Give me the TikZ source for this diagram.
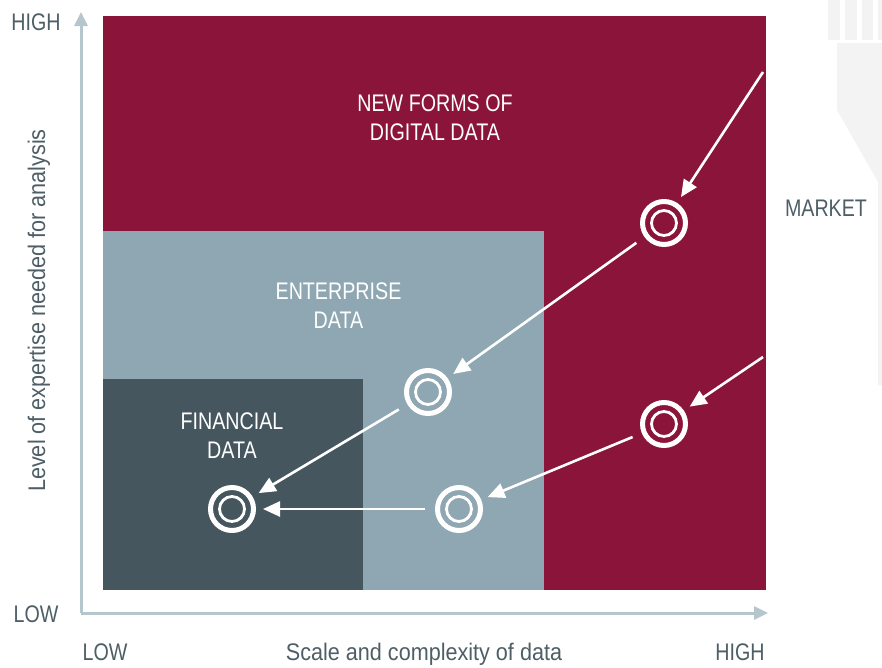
\documentclass[tikz,border=0pt]{standalone}
\usepackage{fontspec}
\setmainfont[FakeStretch=0.82]{Liberation Sans}
\newfontfamily\axisfont[FakeStretch=0.9]{Liberation Sans}
\usetikzlibrary{arrows.meta}

\definecolor{maroon}{HTML}{8B143B}
\definecolor{entblue}{HTML}{8FA7B2}
\definecolor{findark}{HTML}{46565E}
\definecolor{axisgray}{HTML}{B5C7CC}
\definecolor{textgray}{HTML}{4E5E66}
\definecolor{ghost}{HTML}{F3F3F3}

\begin{document}
\begin{tikzpicture}[x=1pt,y=-1pt,
target/.style={circle,draw=white,line width=5pt,minimum size=43pt,inner sep=0pt},
flow/.style={draw=white,line width=2.6pt,-{Triangle[length=17pt,width=15pt]},shorten >=7pt,shorten <=10pt},
axis/.style={draw=axisgray,line width=3pt,-{Triangle[length=14pt,width=13pt]}},
boxlabel/.style={text=white,align=center,font=\fontsize{24}{29}\selectfont},
ticklabel/.style={text=textgray,anchor=base,font=\fontsize{24}{29}\selectfont}]
\useasboundingbox (0,0) rectangle (882,667);

% faint shape at the right edge
\foreach \xa/\xb in {828/840,845/857,862/873,878/882}
  \fill[ghost] (\xa,0) rectangle (\xb,40);
\fill[ghost] (837,43) -- (882,43) -- (882,385) -- (878,385) -- (878,182) -- (837,110) -- cycle;

% the three fields
\fill[maroon] (103,16) rectangle (766,590);
\fill[entblue] (103,231) rectangle (544,590);
\fill[findark] (103,379) rectangle (363,590);

\node[boxlabel] (newlbl) at (435,117.5) {NEW FORMS OF\\DIGITAL DATA};
\node[boxlabel] (entlbl) at (338.5,305.5) {ENTERPRISE\\DATA};
\node[boxlabel] (finlbl) at (232,436) {FINANCIAL\\DATA};

% axes
\coordinate (origin) at (81,613);
\coordinate (ytop) at (81,12);
\coordinate (xend) at (768,613);
\draw[axis] (origin) -- (ytop);
\draw[axis] (origin) -- (xend);

\node[ticklabel] (yhigh) at (36,30) {HIGH};
\node[ticklabel] (ylow) at (36,622) {LOW};
\node[ticklabel] (xlow) at (105,660) {LOW};
\node[ticklabel] (xhigh) at (740,660) {HIGH};
\node[ticklabel,font=\axisfont\fontsize{24}{29}\selectfont] (xtitle) at (424,660) {Scale and complexity of data};
\node[ticklabel,anchor=base,rotate=90,font=\axisfont\fontsize{24}{29}\selectfont] (ytitle) at (45,310.5) {Level of expertise needed for analysis};
\node[ticklabel] (market) at (826,216) {MARKET};

% targets
\node[target] (newtgt) at (664,223) {};
\node[target] (enttgt) at (428,392) {};
\node[target] (mkttgt) at (664,424) {};
\node[target] (midtgt) at (459,509) {};
\node[target] (fintgt) at (232,509) {};
\foreach \n in {newtgt,enttgt,mkttgt,midtgt,fintgt}
  \draw[white,line width=2.8pt] (\n.center) circle[radius=12.5pt];

% flows
\coordinate (mkt1) at (763,72);
\coordinate (mkt2) at (763,357);
\draw[flow,shorten <=0pt] (mkt1) -- (newtgt);
\draw[flow,shorten <=0pt] (mkt2) -- (mkttgt);
\draw[flow] (newtgt) -- (enttgt);
\draw[flow] (mkttgt) -- (midtgt);
\draw[flow] (enttgt) -- (fintgt);
\draw[flow] (midtgt) -- (fintgt);
\end{tikzpicture}
\end{document}
